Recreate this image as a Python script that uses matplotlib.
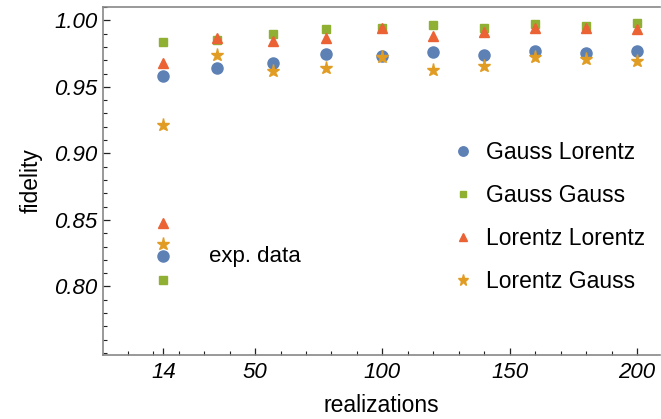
import numpy as np
import matplotlib
matplotlib.use('Agg')
import matplotlib.pyplot as plt
from matplotlib.ticker import FixedLocator

plt.rcParams['font.family'] = ['Liberation Sans', 'DejaVu Sans']

# simulated fidelities vs number of realizations
realizations = [14, 35, 57, 78, 100, 120, 140, 160, 180, 200]
gauss_lorentz = [0.958, 0.964, 0.968, 0.975, 0.973, 0.976, 0.974, 0.977, 0.9758, 0.977]
gauss_gauss = [0.984, 0.9855, 0.990, 0.9935, 0.994, 0.9965, 0.994, 0.997, 0.9957, 0.998]
lorentz_lorentz = [0.968, 0.987, 0.9845, 0.987, 0.994, 0.988, 0.991, 0.994, 0.994, 0.9933]
lorentz_gauss = [0.921, 0.974, 0.962, 0.964, 0.9725, 0.963, 0.966, 0.9725, 0.971, 0.9695]

# experimental data (all at 14 realizations)
exp_x = 14
exp_gl = 0.8227
exp_gg = 0.8047
exp_ll = 0.8477
exp_lg = 0.832

labels = ['Gauss Lorentz', 'Gauss Gauss', 'Lorentz Lorentz', 'Lorentz Gauss']
colors = ['#5E81B5', '#8FB032', '#EB6235', '#E19C24']
markers = ['o', 's', '^', '*']
sizes = [8, 5.3, 7.5, 9.5]

fig = plt.figure(figsize=(6.61, 4.19), dpi=100)
ax = fig.add_axes([0.1558, 0.1527, 0.8427, 0.8306])

series = [gauss_lorentz, gauss_gauss, lorentz_lorentz, lorentz_gauss]
exp_vals = [exp_gl, exp_gg, exp_ll, exp_lg]
for ys, ev, lab, c, m, s in zip(series, exp_vals, labels, colors, markers, sizes):
    ax.plot(realizations, ys, ls='none', marker=m, ms=s, color=c, label=lab)
    ax.plot([exp_x], [ev], ls='none', marker=m, ms=s, color=c)

ax.text(32, exp_gl, 'exp. data', fontsize=16, ha='left', va='center')

ax.set_xlim(-9.7, 209)
ax.set_ylim(0.7485, 1.010)

ax.xaxis.set_major_locator(FixedLocator([14, 50, 100, 150, 200]))
ax.xaxis.set_minor_locator(FixedLocator(np.arange(0, 211, 10)))
ax.yaxis.set_major_locator(FixedLocator([0.80, 0.85, 0.90, 0.95, 1.00]))
ax.yaxis.set_minor_locator(FixedLocator(np.arange(0.75, 1.011, 0.01)))
ax.set_yticklabels(['0.80', '0.85', '0.90', '0.95', '1.00'])

ax.tick_params(which='both', direction='in', top=False, right=False, color='#222222')
ax.tick_params(which='major', length=5, width=0.9, labelsize=16, pad=4)
ax.tick_params(axis='x', which='major', pad=5)
ax.tick_params(which='minor', length=3, width=0.8)
for lab in ax.get_xticklabels() + ax.get_yticklabels():
    lab.set_fontstyle('italic')

for sp in ['left', 'top', 'bottom']:
    ax.spines[sp].set_color('#888888')
    ax.spines[sp].set_linewidth(1.2)
ax.spines['right'].set_visible(False)

ax.set_xlabel('realizations', fontsize=16.5, labelpad=8)
ax.set_ylabel('fidelity', fontsize=16.5, labelpad=8)

ax.legend(loc='upper left', bbox_to_anchor=(0.606, 0.648), frameon=False, fontsize=16.5,
          handlelength=1.0, handletextpad=0.5, labelspacing=0.88, markerscale=0.85,
          borderpad=0)

fig.savefig('out.png', dpi=100)
